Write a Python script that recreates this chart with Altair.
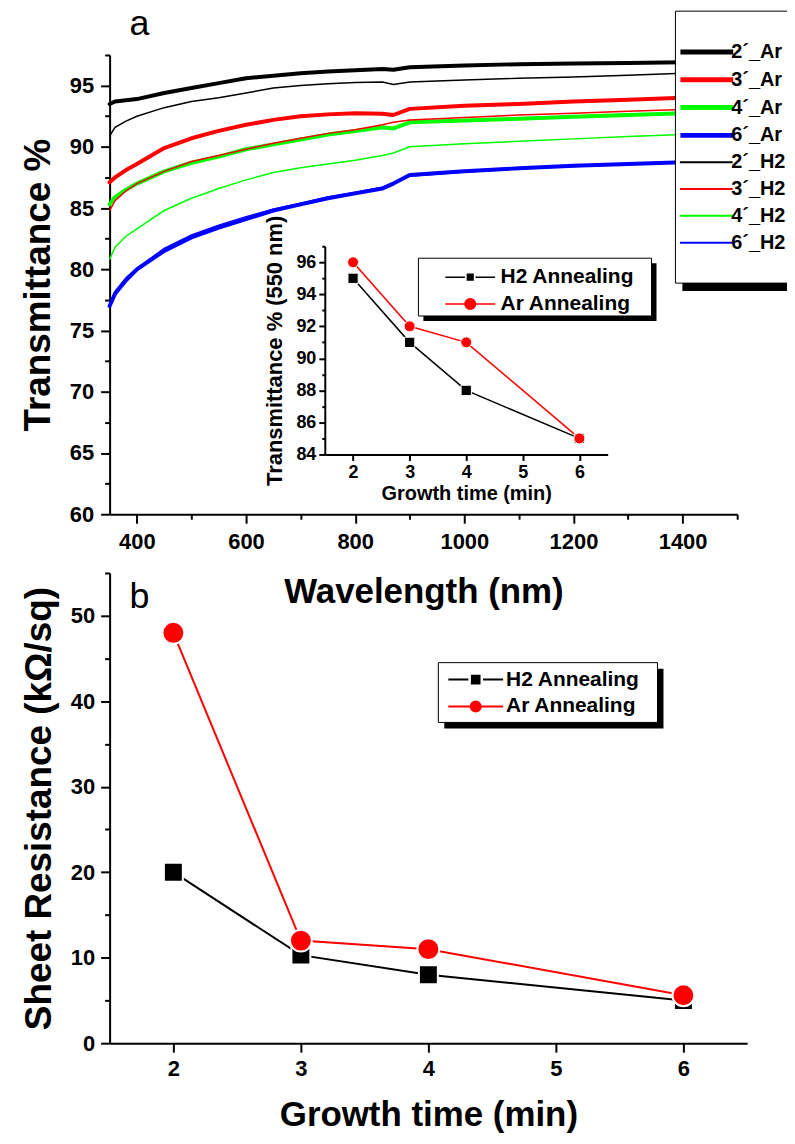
import altair as alt
import pandas as pd

FONT = "Liberation Sans"

# ---------------- data: panel a (spectra) ----------------
wavelength = [350, 360, 380, 400, 450, 500, 550, 600, 650, 700, 750, 800, 850, 870, 900, 1000, 1100, 1200, 1300, 1400, 1500]
t_2min_ar = [93.5, 93.7, 93.8, 93.9, 94.4, 94.8, 95.2, 95.6, 95.8, 96.0, 96.15, 96.25, 96.35, 96.3, 96.5, 96.65, 96.75, 96.8, 96.85, 96.9, 96.95]
t_3min_ar = [87.1, 87.5, 88.1, 88.6, 89.9, 90.7, 91.3, 91.8, 92.2, 92.5, 92.65, 92.75, 92.7, 92.6, 93.1, 93.35, 93.5, 93.7, 93.85, 94.0, 94.1]
t_4min_ar = [85.3, 85.9, 86.5, 87.0, 88.0, 88.7, 89.2, 89.8, 90.2, 90.6, 91.0, 91.3, 91.6, 91.5, 92.0, 92.15, 92.3, 92.45, 92.6, 92.75, 92.85]
t_6min_ar = [77.0, 78.0, 79.1, 80.0, 81.5, 82.6, 83.4, 84.1, 84.8, 85.3, 85.8, 86.2, 86.6, 87.0, 87.7, 88.0, 88.25, 88.45, 88.6, 88.75, 88.85]
t_2min_h2 = [90.9, 91.6, 92.1, 92.5, 93.2, 93.7, 94.0, 94.4, 94.8, 95.0, 95.15, 95.25, 95.3, 95.1, 95.3, 95.45, 95.6, 95.7, 95.85, 96.0, 96.1]
t_3min_h2 = [84.8, 85.6, 86.4, 87.0, 88.0, 88.8, 89.3, 89.8, 90.3, 90.7, 91.1, 91.4, 91.8, 92.0, 92.2, 92.4, 92.6, 92.75, 92.9, 93.05, 93.15]
t_4min_h2 = [80.8, 81.8, 82.7, 83.3, 84.8, 85.8, 86.6, 87.3, 87.9, 88.3, 88.6, 88.9, 89.3, 89.5, 90.0, 90.25, 90.45, 90.65, 90.85, 91.0, 91.1]
t_6min_h2 = [77.2, 78.2, 79.3, 80.1, 81.7, 82.8, 83.6, 84.3, 84.9, 85.4, 85.9, 86.3, 86.7, 87.1, 87.6, 87.95, 88.2, 88.4, 88.55, 88.7, 88.8]

ar_names = ["2´_Ar", "3´_Ar", "4´_Ar", "6´_Ar"]
h2_names = ["2´_H2", "3´_H2", "4´_H2", "6´_H2"]
time_colors = ["#000000", "#ff0000", "#00ff00", "#0000ff"]
ar_values = [t_2min_ar, t_3min_ar, t_4min_ar, t_6min_ar]
h2_values = [t_2min_h2, t_3min_h2, t_4min_h2, t_6min_h2]

# ---------------- data: inset and panel b ----------------
anneal_names = ["H2 Annealing", "Ar Annealing"]
growth_time = [2, 3, 4, 6]
t550_h2 = [95, 91, 88, 85]
t550_ar = [96, 92, 91, 85]
rs_h2 = [20.0, 10.3, 8.0, 5.0]
rs_ar = [48.0, 12.0, 11.0, 5.6]

# tick value lists
ticks_wl = [400, 500, 600, 700, 800, 900, 1000, 1100, 1200, 1300, 1400, 1500]
ticks_t = [60, 62.5, 65, 67.5, 70, 72.5, 75, 77.5, 80, 82.5, 85, 87.5, 90, 92.5, 95, 97.5]
ticks_time = [2, 2.5, 3, 3.5, 4, 4.5, 5, 5.5, 6, 6.5]
ticks_t550 = [84, 85, 86, 87, 88, 89, 90, 91, 92, 93, 94, 95, 96, 97]
ticks_rs = [0, 5, 10, 15, 20, 25, 30, 35, 40, 45, 50, 55]

# ---------------- tables ----------------
def spectra_table(names, values):
    rows = []
    for name, vals in zip(names, values):
        for wl, t in zip(wavelength, vals):
            rows.append({"wl": wl, "T": t, "series": name})
    return pd.DataFrame(rows)


df_thick = spectra_table(ar_names, ar_values)
df_thin = spectra_table(h2_names, h2_values)

df_t550_h2 = pd.DataFrame({"time": growth_time, "T": t550_h2, "anneal": anneal_names[0]})
df_t550_ar = pd.DataFrame({"time": growth_time, "T": t550_ar, "anneal": anneal_names[1]})
df_rs_h2 = pd.DataFrame({"time": growth_time, "R": rs_h2, "anneal": anneal_names[0]})
df_rs_ar = pd.DataFrame({"time": growth_time, "R": rs_ar, "anneal": anneal_names[1]})
one = pd.DataFrame({"k": [1]})


def cond(test, major, minor):
    return {"condition": {"test": test, "value": major}, "value": minor}


def lexpr(test):
    return f"{test} ? datum.label : ''"


def deco(x1, x2, y1, y2, fill, stroke=None):
    kw = {"fill": fill}
    if stroke:
        kw.update(stroke=stroke, strokeWidth=1)
    return alt.Chart(one).mark_rect(**kw).encode(
        x=alt.value(x1), x2=alt.value(x2), y=alt.value(y1), y2=alt.value(y2))


def leg(x, y, symbol, size, so, lo, rp, fs=21, stroke_color=None, sw=None):
    kw = dict(title=None, orient="none", legendX=x, legendY=y, padding=0, rowPadding=rp,
              symbolType=symbol, symbolSize=size, symbolOffset=so, labelOffset=lo,
              labelFont=FONT, labelFontSize=fs, labelFontWeight="bold", labelColor="black")
    if stroke_color:
        kw["symbolStrokeColor"] = stroke_color
    if sw:
        kw["symbolStrokeWidth"] = sw
    return alt.Legend(**kw)


# ---------------- panel a ----------------
W_A, H_A = 630, 461
sc_wl = alt.Scale(domain=[350, 1500], nice=False, zero=False)
sc_t = alt.Scale(domain=[60, 97.5], nice=False, zero=False)

x_a = alt.X("wl:Q", scale=sc_wl, axis=alt.Axis(
    orient="bottom", values=ticks_wl, format="d",
    tickSize=cond("datum.value % 200 === 0", 9, 5),
    labelExpr=lexpr("datum.value % 200 === 0"),
    labelFontSize=22, labelPadding=8,
    title="Wavelength (nm)", titleFontSize=35, titlePadding=23))
y_a = alt.Y("T:Q", scale=sc_t, axis=alt.Axis(
    orient="left", values=ticks_t,
    tickSize=cond("datum.value % 5 === 0", 9, 5),
    labelExpr=lexpr("datum.value % 5 === 0"),
    labelFontSize=22, labelPadding=7,
    title="Transmittance %", titleFontSize=37, titlePadding=12))

thick = alt.Chart(df_thick).mark_line(strokeWidth=4, strokeJoin="round", strokeCap="round").encode(
    x=x_a, y=y_a,
    color=alt.Color("series:N", scale=alt.Scale(domain=ar_names, range=time_colors),
                    legend=leg(573, -14.5, "M-3,0H3", 312, 15, 13, 5.9, fs=20, sw=5)))
thin = alt.Chart(df_thin).mark_line(strokeWidth=1.5).encode(
    x=alt.X("wl:Q", scale=sc_wl, axis=None),
    y=alt.Y("T:Q", scale=sc_t, axis=None),
    color=alt.Color("series:N", scale=alt.Scale(domain=h2_names, range=time_colors),
                    legend=leg(573, 97.7, "M-3,0H3", 312, 16, 15, 6.9, fs=20, sw=2)))

shadow_a = deco(575, 700, -37, 237, "black")
box_a = deco(568, 700, -44, 229, "white", "black")

# inset
sc_time_i = alt.Scale(domain=[1.5, 6.5], range=[216, 500], nice=False, zero=False)
sc_t550 = alt.Scale(domain=[84, 97], range=[401, 192], nice=False, zero=False)

H2_PATH_I = "M-3,0H-0.64M0.64,0H3M-0.34,-0.34H0.34V0.34H-0.34Z"
AR_PATH_I = "M-3,0H3M0.64,0A0.64,0.64,0,1,1,-0.64,0A0.64,0.64,0,1,1,0.64,0Z"

x_i = alt.X("time:Q", scale=sc_time_i, axis=alt.Axis(
    orient="bottom", offset=-60, values=ticks_time, format="d",
    tickSize=cond("datum.value % 1 === 0", 6, 3),
    labelExpr=lexpr("datum.value % 1 === 0"),
    labelFontSize=18, labelPadding=3,
    title="Growth time (min)", titleFontSize=20, titlePadding=2))
y_i = alt.Y("T:Q", scale=sc_t550, axis=alt.Axis(
    orient="left", offset=-216, values=ticks_t550, format="d",
    tickSize=cond("datum.value % 2 === 0", 6, 3),
    labelExpr=lexpr("datum.value % 2 === 0"),
    labelFontSize=18, labelPadding=3,
    title="Transmittance % (550 nm)", titleFontSize=22, titlePadding=9))
x_i0 = alt.X("time:Q", scale=sc_time_i, axis=None)
y_i0 = alt.Y("T:Q", scale=sc_t550, axis=None)

inset_line_h2 = alt.Chart(df_t550_h2).mark_line(strokeWidth=1.5, color="black").encode(x=x_i, y=y_i)
inset_line_ar = alt.Chart(df_t550_ar).mark_line(strokeWidth=1.5, color="red").encode(x=x_i0, y=y_i0)
inset_pts_h2 = alt.Chart(df_t550_h2).mark_point(
    shape="square", filled=True, opacity=1, size=106, stroke="white", strokeWidth=1
).encode(x=x_i0, y=y_i0, color=alt.Color(
    "anneal:N", scale=alt.Scale(domain=[anneal_names[0]], range=["#000000"]),
    legend=leg(331, 212.5, H2_PATH_I, 278, 20.5, 20, 6, stroke_color="#000000", sw=1.5)))
inset_pts_ar = alt.Chart(df_t550_ar).mark_point(
    shape="circle", filled=True, opacity=1, size=121, stroke="white", strokeWidth=1
).encode(x=x_i0, y=y_i0, color=alt.Color(
    "anneal:N", scale=alt.Scale(domain=[anneal_names[1]], range=["#ff0000"]),
    legend=leg(331, 239.5, AR_PATH_I, 278, 20.5, 20, 6, stroke_color="#ff0000", sw=1.5)))
shadow_i = deco(315, 549, 209, 267, "black")
box_i = deco(310, 544, 204, 262, "white", "black")

panel_a = alt.layer(
    thick, thin, shadow_a, box_a,
    inset_line_h2, inset_line_ar, inset_pts_h2, inset_pts_ar, shadow_i, box_i
).resolve_scale(
    x="independent", y="independent", color="independent"
).properties(
    width=W_A, height=H_A,
    title=alt.TitleParams("a", anchor="start", frame="group", dx=20, offset=-60,
                          fontSize=36, fontWeight="normal", baseline="alphabetic",
                          font=FONT, color="black"))

# ---------------- panel b ----------------
W_B, H_B = 640, 472
sc_time_b = alt.Scale(domain=[1.5, 6.5], nice=False, zero=False)
sc_rs = alt.Scale(domain=[0, 55], nice=False, zero=False)

H2_PATH_B = "M-3,0H-0.8M0.8,0H3M-0.42,-0.42H0.42V0.42H-0.42Z"
AR_PATH_B = "M-3,0H3M0.55,0A0.55,0.55,0,1,1,-0.55,0A0.55,0.55,0,1,1,0.55,0Z"

x_b = alt.X("time:Q", scale=sc_time_b, axis=alt.Axis(
    orient="bottom", values=ticks_time, format="d",
    tickSize=cond("datum.value % 1 === 0", 9, 5),
    labelExpr=lexpr("datum.value % 1 === 0"),
    labelFontSize=22, labelPadding=6,
    title="Growth time (min)", titleFontSize=35, titlePadding=19))
y_b = alt.Y("R:Q", scale=sc_rs, axis=alt.Axis(
    orient="left", values=ticks_rs, format="d",
    tickSize=cond("datum.value % 10 === 0", 9, 5),
    labelExpr=lexpr("datum.value % 10 === 0"),
    labelFontSize=22, labelPadding=6,
    title="Sheet Resistance (kΩ/sq)", titleFontSize=37, titlePadding=12))

line_b_h2 = alt.Chart(df_rs_h2).mark_line(strokeWidth=2, color="black").encode(x=x_b, y=y_b)
line_b_ar = alt.Chart(df_rs_ar).mark_line(strokeWidth=2, color="red").encode(x=x_b, y=y_b)
sq_b = alt.Chart(df_rs_h2).mark_point(
    shape="square", filled=True, opacity=1, size=361, stroke="white", strokeWidth=2
).encode(x=x_b, y=y_b, color=alt.Color(
    "anneal:N", scale=alt.Scale(domain=[anneal_names[0]], range=["#000000"]),
    legend=leg(340, 96.5, H2_PATH_B, 336, 17, 20, 6, stroke_color="#000000", sw=2)))
ci_b = alt.Chart(df_rs_ar).mark_point(
    shape="circle", filled=True, opacity=1, size=484, stroke="white", strokeWidth=2
).encode(x=x_b, y=y_b, color=alt.Color(
    "anneal:N", scale=alt.Scale(domain=[anneal_names[1]], range=["#ff0000"]),
    legend=leg(340, 123.5, AR_PATH_B, 336, 17, 20, 6, stroke_color="#ff0000", sw=2)))
shadow_b = deco(336, 556, 96, 156, "black")
box_b = deco(330, 550, 90, 150, "white", "black")

panel_b = alt.layer(line_b_h2, line_b_ar, sq_b, ci_b, shadow_b, box_b).resolve_scale(
    color="independent"
).properties(
    width=W_B, height=H_B,
    title=alt.TitleParams("b", anchor="start", frame="group", dx=20, offset=-72,
                          fontSize=36, fontWeight="normal", baseline="alphabetic",
                          font=FONT, color="black"))

chart = alt.vconcat(panel_a, panel_b, spacing=59, bounds="flush").properties(
    padding={"left": 11, "top": -5, "right": -21, "bottom": 0}
).configure_view(stroke=None).configure_axis(
    domainColor="black", domainWidth=2, tickColor="black", tickWidth=2,
    labelColor="black", titleColor="black", labelFont=FONT, titleFont=FONT,
    labelFontWeight="bold", titleFontWeight="bold", grid=False
)

chart.save("out.html", embed_options={"renderer": "svg", "actions": False})
